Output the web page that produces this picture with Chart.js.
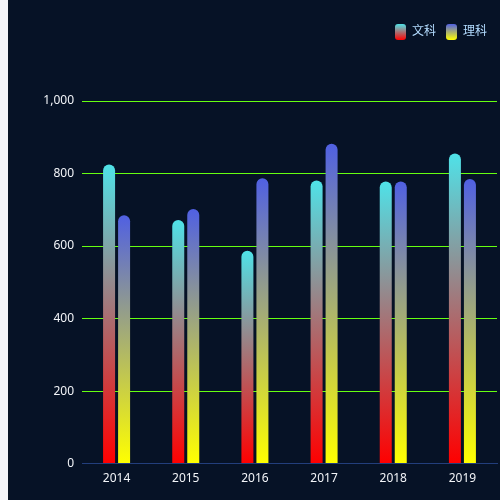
<!DOCTYPE html>
<html>
<head>
<meta charset="utf-8">
<script src="https://cdn.jsdelivr.net/npm/chart.js@4.4.0/dist/chart.umd.min.js"></script>
<style>
  html, body { margin: 0; padding: 0; background: #f3f4f9; overflow: hidden; }
  #wrap { position: absolute; left: 8px; top: 0; width: 492px; height: 500px; background: #061226; }
</style>
</head>
<body>
<div id="wrap"><canvas id="c"></canvas></div>
<script>
const categories = ['2014', '2015', '2016', '2017', '2018', '2019'];
const wenke = [825, 672, 587, 781, 778, 855];
const like = [685, 702, 787, 882, 778, 785];
const seriesNames = ['文科', '理科'];
const yTicks = [0, 200, 400, 600, 800, 1000];

const colorsWen = ['#4fe2e8', '#ff0000'];
const colorsLi = ['#5060e2', '#ffff00'];

function barGradient(stops) {
  return function (ctx) {
    const chart = ctx.chart;
    if (!chart.chartArea || ctx.type !== 'data') return stops[0];
    const y = chart.scales.y;
    const top = y.getPixelForValue(ctx.raw);
    const bottom = y.getPixelForValue(0);
    if (!isFinite(top) || !isFinite(bottom) || top === bottom) return stops[0];
    const g = chart.ctx.createLinearGradient(0, top, 0, bottom);
    g.addColorStop(0, stops[0]);
    g.addColorStop(1, stops[1]);
    return g;
  };
}

const legendMargin = {
  id: 'legendMargin',
  beforeInit(chart) {
    const fit = chart.legend.fit;
    chart.legend.fit = function () {
      fit.bind(chart.legend)();
      this.height += 51;
    };
  }
};

const FONT = '"Noto Sans", "Noto Sans CJK SC", sans-serif';

new Chart(document.getElementById('c'), {
  type: 'bar',
  data: {
    labels: categories,
    datasets: [
      { label: seriesNames[0], data: wenke, backgroundColor: barGradient(colorsWen), borderRadius: 6, borderSkipped: 'bottom', categoryPercentage: 0.434, barPercentage: 0.8 },
      { label: seriesNames[1], data: like, backgroundColor: barGradient(colorsLi), borderRadius: 6, borderSkipped: 'bottom', categoryPercentage: 0.434, barPercentage: 0.8 }
    ]
  },
  plugins: [legendMargin],
  options: {
    responsive: true,
    maintainAspectRatio: false,
    animation: false,
    layout: { padding: { top: 14, right: 3, bottom: 6, left: 0 } },
    plugins: {
      tooltip: { enabled: false },
      legend: {
        position: 'top',
        align: 'end',
        labels: {
          color: '#b3dcff',
          font: { family: FONT, size: 12 },
          boxWidth: 11,
          boxHeight: 16,
          padding: 10,
          useBorderRadius: true,
          borderRadius: 3,
          generateLabels(chart) {
            const items = Chart.defaults.plugins.legend.labels.generateLabels(chart);
            const cols = [colorsWen, colorsLi];
            items.forEach((it, i) => {
              const g = chart.ctx.createLinearGradient(0, 24, 0, 40);
              g.addColorStop(0, cols[i][0]);
              g.addColorStop(1, cols[i][1]);
              it.fillStyle = g;
              it.strokeStyle = 'rgba(0,0,0,0)';
              it.lineWidth = 0;
              it.borderRadius = 3;
            });
            return items;
          }
        }
      }
    },
    scales: {
      x: {
        grid: { display: false, drawTicks: false },
        border: { display: true, color: '#223e7c', width: 1 },
        ticks: { color: '#f2f4f8', font: { family: FONT, size: 12 }, padding: 8 }
      },
      y: {
        min: 0,
        max: 1000,
        afterBuildTicks(scale) { scale.ticks = yTicks.map(v => ({ value: v })); },
        afterFit(scale) { scale.width = 74; },
        grid: { color: '#66ff11', lineWidth: 1, drawTicks: false },
        border: { display: false },
        ticks: { color: '#f2f4f8', font: { family: FONT, size: 12 }, padding: 8 }
      }
    }
  }
});
</script>
</body>
</html>
